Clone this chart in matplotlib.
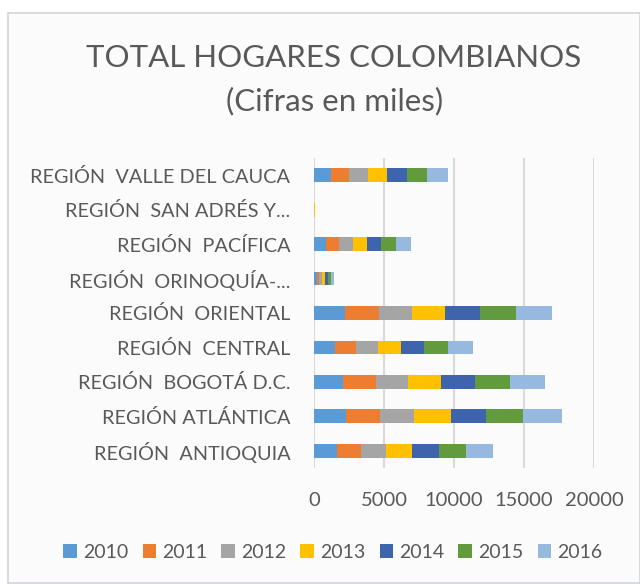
import matplotlib
matplotlib.use("Agg")
import matplotlib.pyplot as plt
from matplotlib.patches import Rectangle
import numpy as np

plt.rcParams['font.family'] = ['Lato', 'DejaVu Sans']

categories = ["REGIÓN  ANTIOQUIA", "REGIÓN ATLÁNTICA", "REGIÓN  BOGOTÁ D.C.",
              "REGIÓN  CENTRAL", "REGIÓN  ORIENTAL", "REGIÓN  ORINOQUÍA-...",
              "REGIÓN  PACÍFICA", "REGIÓN  SAN ADRÉS Y...", "REGIÓN  VALLE DEL CAUCA"]
years = ["2010", "2011", "2012", "2013", "2014", "2015", "2016"]

v2010 = [1643, 2262, 2095, 1476, 2238, 185, 881, 10, 1238]
v2011 = [1714, 2429, 2333, 1548, 2405, 190, 905, 10, 1262]
v2012 = [1786, 2452, 2286, 1548, 2333, 200, 1000, 10, 1333]
v2013 = [1857, 2619, 2381, 1643, 2381, 205, 976, 11, 1405]
v2014 = [1905, 2524, 2405, 1643, 2500, 210, 1024, 11, 1405]
v2015 = [1929, 2643, 2476, 1690, 2548, 215, 1071, 11, 1452]
v2016 = [1976, 2762, 2548, 1786, 2571, 225, 1048, 12, 1452]
series = [v2010, v2011, v2012, v2013, v2014, v2015, v2016]
colors = ["#5B9BD5", "#ED7D31", "#A5A5A5", "#FFC000", "#3F64AE", "#629A3E", "#97B9E0"]

fig = plt.figure(figsize=(6.4, 5.84), dpi=100)
fig.patch.set_facecolor("white")
fig.add_artist(Rectangle((8/640, 1-583/584), 632/640, 570/584, transform=fig.transFigure,
                         facecolor="#FBFBFB", edgecolor="#D0D4DA", linewidth=1.2, zorder=0))

ax = fig.add_axes([314/640, 1-468/584, 280/640, 310/584])
ax.set_facecolor("none")
y = np.arange(len(categories))
left = np.zeros(len(categories))
for yr, vals, c in zip(years, series, colors):
    ax.barh(y, vals, left=left, height=0.4, color=c, label=yr, zorder=3)
    left += np.array(vals)

ax.set_xlim(0, 20000)
ax.set_ylim(-0.5, len(categories) - 0.5)
ax.set_xticks([0, 5000, 10000, 15000, 20000])
ax.set_xticklabels(["0", "5000", "10000", "15000", "20000"])
ax.set_yticks(y)
ax.set_yticklabels(categories)
ax.tick_params(axis="x", length=0, pad=17, labelsize=14.5, labelcolor="#595959")
ax.tick_params(axis="y", length=0, pad=17, labelsize=14.3, labelcolor="#595959")
ax.grid(axis="x", color="#D9D9D9", linewidth=1.5, zorder=0)
for s in ax.spines.values():
    s.set_visible(False)

fig.text(0.522, 1-58/584, "TOTAL HOGARES COLOMBIANOS", ha="center", va="center",
         fontsize=22.5, color="#595959")
fig.text(0.522, 1-101/584, "(Cifras en miles)", ha="center", va="center",
         fontsize=22.5, color="#595959")

handles, labels = ax.get_legend_handles_labels()
fig.legend(handles, labels, loc="center", bbox_to_anchor=(0.52, 1-552/584), ncol=7,
           frameon=False, fontsize=14, labelcolor="#595959", handlelength=0.7,
           handleheight=0.7, handletextpad=0.3, columnspacing=0.74)

fig.savefig("out.png", dpi=100)
